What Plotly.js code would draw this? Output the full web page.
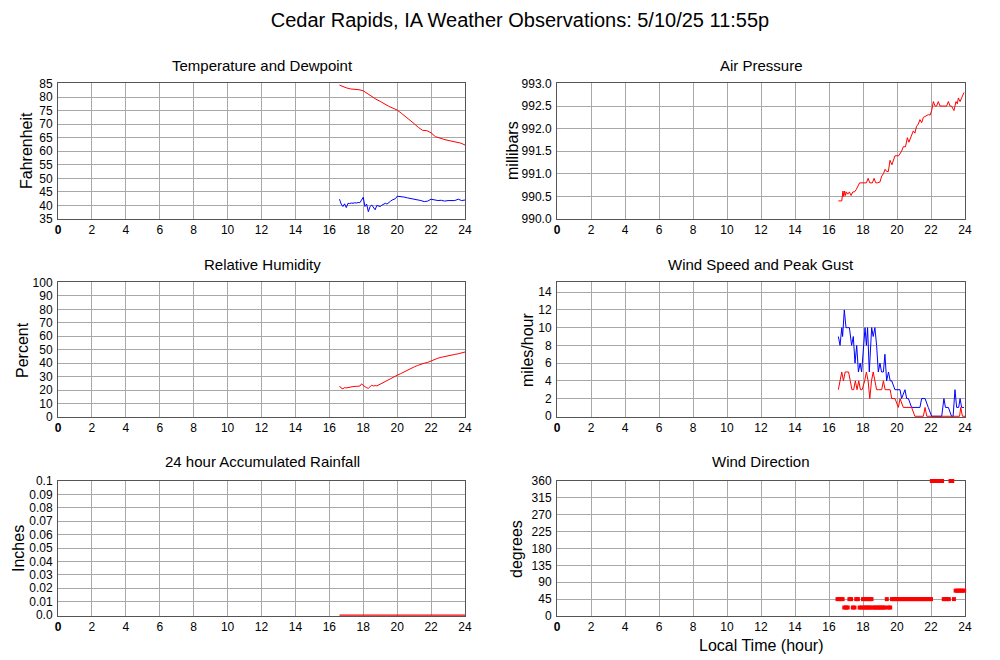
<!DOCTYPE html>
<html><head><meta charset="utf-8">
<script src="https://cdn.plot.ly/plotly-3.0.1.min.js"></script>
<style>html,body{margin:0;padding:0;background:#fff}#chart{width:1000px;height:660px}</style>
</head><body><div id="chart"></div>
<script>
// ---- data (hours local time) ----
var hourTicks = [0,2,4,6,8,10,12,14,16,18,20,22,24];
var hourLabels = ['<b>0</b>','2','4','6','8','10','12','14','16','18','20','22','24'];

var tTemp = [16.6,16.75,17.0,17.25,17.5,17.75,18.0,18.25,18.5,18.75,19.0,19.25,19.5,19.75,20.0,20.25,20.5,20.75,21.0,21.25,21.5,21.75,22.0,22.25,22.5,22.75,23.0,23.25,23.5,23.75,24.0];
var temp = [84.4,84.0,83.4,83.0,82.9,82.7,82.3,81.2,80.0,79.2,78.4,77.4,76.6,75.9,75.2,74.0,72.8,71.6,70.2,68.8,67.7,67.6,66.8,65.4,64.8,64.4,64.0,63.6,63.3,63.0,62.3];

var tDew = [16.6,16.7,16.8,16.9,17.0,17.1,17.2,17.3,17.4,17.5,17.6,17.7,17.8,17.9,18.0,18.1,18.2,18.3,18.4,18.5,18.6,18.7,18.8,18.9,19.0,19.1,19.2,19.3,19.4,19.5,19.6,19.7,19.8,19.9,20.0,20.2,20.4,20.6,20.8,21.0,21.2,21.4,21.6,21.8,22.0,22.2,22.4,22.6,22.8,23.0,23.2,23.4,23.6,23.8,24.0];
var dew = [42.3,40.5,39.6,40.6,39.2,40.8,40.7,40.9,40.8,41.0,40.9,41.1,41.0,42.2,43.0,39.6,40.5,37.7,39.5,40.2,39.0,38.4,40.0,39.8,39.6,40.1,40.6,40.8,40.5,41.2,41.5,42.0,42.2,42.5,43.4,43.3,43.1,42.8,42.6,42.4,42.0,41.8,41.4,41.6,42.3,42.0,41.8,41.9,41.6,41.8,41.9,41.8,42.3,41.8,42.0];

var tPres = [16.55,16.75,16.82,16.87,16.92,16.97,17.02,17.1,17.2,17.3,17.4,17.5,17.6,17.7,17.8,18.0,18.2,18.3,18.4,18.55,18.65,18.75,18.85,19.0,19.1,19.2,19.3,19.39,19.49,19.59,19.7,19.88,20.0,20.1,20.27,20.37,20.5,20.61,20.7,20.76,20.85,20.96,21.05,21.15,21.25,21.35,21.45,21.55,21.65,21.75,21.84,21.95,22.04,22.14,22.24,22.33,22.43,22.53,22.62,22.72,22.82,22.92,23.02,23.12,23.21,23.35,23.47,23.55,23.61,23.71,23.8,23.94];
var pres = [990.40,990.40,990.62,990.50,990.62,990.52,990.60,990.55,990.60,990.52,990.60,990.60,990.65,990.72,990.80,990.80,990.80,990.90,990.80,990.80,990.90,990.80,990.80,990.82,990.95,991.00,991.10,991.05,991.05,991.30,991.20,991.40,991.40,991.40,991.50,991.60,991.60,991.80,991.70,991.75,991.85,991.95,991.90,992.05,992.10,992.20,992.13,992.25,992.27,992.30,992.31,992.30,992.40,992.60,992.50,992.50,992.60,992.50,992.50,992.50,992.50,992.50,992.60,992.50,992.50,992.40,992.60,992.55,992.68,992.60,992.68,992.80];

var tRH = [16.6,16.7,16.8,16.9,17.0,17.2,17.4,17.6,17.8,17.9,18.0,18.1,18.2,18.3,18.4,18.5,18.6,18.7,18.8,19.0,19.2,19.4,19.6,19.8,20.0,20.2,20.4,20.6,20.8,21.0,21.2,21.4,21.6,21.8,22.0,22.2,22.4,22.6,22.8,23.0,23.2,23.4,23.6,23.8,24.0];
var rh = [23,21.5,21,21.8,21.6,22.3,22.6,22.8,23.0,24.6,23.2,22.5,21.8,21.3,22.5,23.6,23.0,23.4,23.1,24.5,25.8,27.0,28.2,29.5,31.0,32.2,33.6,34.9,36.0,37.2,38.3,39.3,40.0,40.6,41.8,42.8,43.7,44.4,44.8,45.2,45.8,46.5,47.0,47.5,48.3];

var tGust = [16.55,16.65,16.75,16.8,16.9,17.0,17.1,17.2,17.33,17.43,17.53,17.63,17.73,17.83,17.92,18.02,18.12,18.2,18.27,18.37,18.51,18.6,18.7,18.8,18.9,19.0,19.09,19.2,19.29,19.39,19.5,19.6,19.69,19.88,20.18,20.27,20.47,20.57,20.67,20.86,21.35,21.45,21.65,21.84,22.04,22.63,22.76,22.85,23.02,23.21,23.3,23.41,23.51,23.63,23.71,23.8,23.94];
var gust = [9,8,10,9,12,10,10,10,8,9,6,8,5,6,5,8,10,8,10,5,10,9,10,8,5,6,5,5,7,4,5,4,4,3,3,2,3,2,2,1,1,2,2,1,0,0,2,1,1,0,0,3,1,1,2,1,1];

var tSpeed = [16.55,16.65,16.75,16.85,16.95,17.05,17.15,17.25,17.35,17.45,17.55,17.65,17.75,17.85,17.95,18.1,18.2,18.3,18.4,18.5,18.6,18.7,18.8,18.9,19.1,19.2,19.3,19.6,19.69,19.88,20.08,20.18,20.37,20.86,21.05,21.55,21.65,21.75,23.68,23.75,23.85,24.0];
var speed = [3,4,5,4,5,5,5,4,3,3,4,3,4,3,3,4,5,4,2,4,5,4,3,3,3,4,3,3,2,2,1,2,1,1,0,0,1,0,0,1,0,0];

var tDir = [16.5,16.6,16.7,16.8,16.9,17.0,17.1,17.2,17.3,17.4,17.5,17.6,17.7,17.8,17.9,18.0,18.05,18.1,18.15,18.2,18.25,18.3,18.35,18.4,18.45,18.5,18.6,18.7,18.8,18.9,19.0,19.1,19.2,19.3,19.4,19.5,19.6,19.7,19.8,19.9,20.0,20.1,20.2,20.3,20.4,20.5,20.6,20.7,20.8,20.9,21.0,21.1,21.2,21.3,21.4,21.5,21.6,21.7,21.8,21.9,22.0,22.05,22.15,22.25,22.35,22.45,22.55,22.65,22.75,22.85,22.95,23.05,23.15,23.25,23.35,23.45,23.55,23.65,23.75,23.85,23.95];
var dir = [45,45,45,45,22.5,22.5,22.5,45,45,22.5,22.5,45,45,22.5,22.5,45,22.5,45,22.5,45,22.5,45,22.5,45,22.5,45,22.5,22.5,22.5,22.5,22.5,22.5,22.5,22.5,45,22.5,22.5,45,45,45,45,45,45,45,45,45,45,45,45,45,45,45,45,45,45,45,45,45,45,45,45,360,360,360,360,360,360,360,45,45,45,45,360,360,45,67.5,67.5,67.5,67.5,67.5,67.5];

var tRain = [16.6,18,20,22,24];
var rain = [0,0,0,0,0];

// ---- layout ----
var FONT = 'Liberation Sans, Arial, Helvetica, sans-serif';
var RED = '#ff0000', BLUE = '#0000ff';
function xax(domain, anchor){
  return {domain:domain, anchor:anchor, range:[0,24], tickvals:hourTicks, ticktext:hourLabels,
    showgrid:true, gridcolor:'#a8a8a8', gridwidth:1, zeroline:false, showline:true, mirror:true,
    linecolor:'#555', linewidth:1, ticks:'', layer:'below traces', tickfont:{family:FONT,size:12,color:'#000'}, fixedrange:true};
}
function yax(domain, anchor, range, tickvals, ticktext){
  var o = {domain:domain, anchor:anchor, range:range, tickvals:tickvals,
    showgrid:true, gridcolor:'#a8a8a8', gridwidth:1, zeroline:false, showline:true, mirror:true,
    linecolor:'#555', linewidth:1, ticks:'', layer:'below traces', ticklabelstandoff:2, tickfont:{family:FONT,size:12,color:'#000'}, fixedrange:true};
  if (ticktext) o.ticktext = ticktext;
  return o;
}
var XL = [0.058,0.465], XR = [0.557,0.965];
var YT = [0.6682,0.8735], YM = [0.3682,0.572], YB = [0.0667,0.2712];

function py(p){ return 1 - p/660; }
function px(p){ return p/1000; }
function ann(text, x, y, size, angle){
  var a = {text:text, xref:'paper', yref:'paper', x:px(x), y:py(y), xanchor:'center', yanchor:'middle',
    showarrow:false, font:{family:FONT, size:size, color:'#000'}};
  if (angle) a.textangle = angle;
  return a;
}

var traces = [
  {x:tTemp, y:temp, xaxis:'x', yaxis:'y', mode:'lines', line:{color:RED,width:1}, name:'Temperature'},
  {x:tDew, y:dew, xaxis:'x', yaxis:'y', mode:'lines', line:{color:BLUE,width:1}, name:'Dewpoint'},
  {x:tPres, y:pres, xaxis:'x2', yaxis:'y2', mode:'lines', line:{color:RED,width:1}, name:'Pressure'},
  {x:tRH, y:rh, xaxis:'x3', yaxis:'y3', mode:'lines', line:{color:RED,width:1}, name:'RH'},
  {x:tGust, y:gust, xaxis:'x4', yaxis:'y4', mode:'lines', line:{color:BLUE,width:1}, name:'Gust'},
  {x:tSpeed, y:speed, xaxis:'x4', yaxis:'y4', mode:'lines', line:{color:RED,width:1}, name:'Speed'},
  {x:tRain, y:rain, xaxis:'x5', yaxis:'y5', mode:'lines', line:{color:RED,width:1.2}, name:'Rain'},
  {x:tDir, y:dir, xaxis:'x6', yaxis:'y6', mode:'markers', marker:{color:RED,size:4,symbol:'square',line:{width:0}}, cliponaxis:false, name:'Direction'}
];

var layout = {
  width:1000, height:660, margin:{l:0,r:0,t:0,b:0}, paper_bgcolor:'#fff', plot_bgcolor:'#fff',
  showlegend:false, font:{family:FONT, color:'#000'},
  title:{text:'Cedar Rapids, IA Weather Observations: 5/10/25 11:55p', x:0.52, xanchor:'center', y:py(20), yanchor:'middle', font:{family:FONT,size:20,color:'#000'}},
  xaxis: xax(XL,'y'),  yaxis: yax(YT,'x',[35,85],[35,40,45,50,55,60,65,70,75,80,85]),
  xaxis2: xax(XR,'y2'), yaxis2: yax(YT,'x2',[990,993],[990,990.5,991,991.5,992,992.5,993],['990.0','990.5','991.0','991.5','992.0','992.5','993.0']),
  xaxis3: xax(XL,'y3'), yaxis3: yax(YM,'x3',[0,100],[0,10,20,30,40,50,60,70,80,90,100]),
  xaxis4: xax(XR,'y4'), yaxis4: yax(YM,'x4',[-0.08,15.1],[0,2,4,6,8,10,12,14]),
  xaxis5: xax(XL,'y5'), yaxis5: yax(YB,'x5',[-0.0007,0.1],[0,0.01,0.02,0.03,0.04,0.05,0.06,0.07,0.08,0.09,0.1],['0.0','0.01','0.02','0.03','0.04','0.05','0.06','0.07','0.08','0.09','0.1']),
  xaxis6: xax(XR,'y6'), yaxis6: yax(YB,'x6',[0,360],[0,45,90,135,180,225,270,315,360]),
  annotations:[
    ann('Temperature and Dewpoint',262,65,15),
    ann('Air Pressure',761,65,15),
    ann('Relative Humidity',262,264,15),
    ann('Wind Speed and Peak Gust',761,264,15),
    ann('24 hour Accumulated Rainfall',262,462,15),
    ann('Wind Direction',761,462,15),
    ann('Local Time (hour)',761,645,16),
    ann('Fahrenheit',27,151,16,-90),
    ann('millibars',513,151,16,-90),
    ann('Percent',22,350,16,-90),
    ann('miles/hour',527,350,16,-90),
    ann('Inches',18,549,16,-90),
    ann('degrees',516,549,16,-90)
  ]
};
Plotly.newPlot('chart', traces, layout, {displayModeBar:false, staticPlot:true});
</script>
</body></html>
